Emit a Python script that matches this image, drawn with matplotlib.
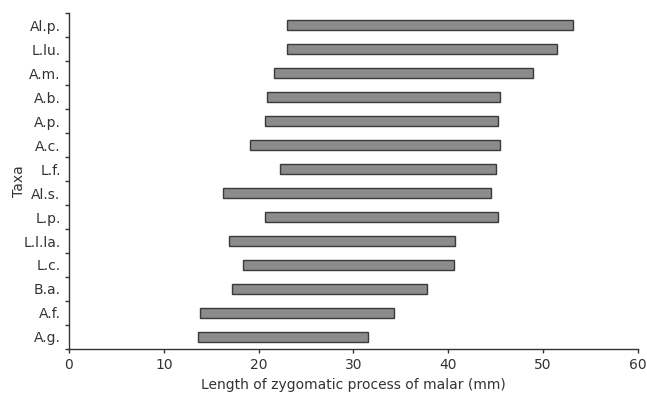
import matplotlib.pyplot as plt
import numpy as np

# taxa listed bottom to top
taxa = ['A.g.', 'A.f.', 'B.a.', 'L.c.', 'L.l.la.', 'L.p.', 'Al.s.', 'L.f.',
        'A.c.', 'A.p.', 'A.b.', 'A.m.', 'L.lu.', 'Al.p.']
low = [13.6, 13.8, 17.2, 18.4, 16.9, 20.7, 16.2, 22.3, 19.1, 20.7, 20.9, 21.6, 23.0, 22.95]
high = [31.5, 34.3, 37.8, 40.6, 40.7, 45.2, 44.5, 45.0, 45.5, 45.2, 45.5, 48.9, 51.5, 53.1]

xticks = [0, 10, 20, 30, 40, 50, 60]

fig = plt.figure(figsize=(6.47, 3.97), dpi=100)
ax = fig.add_axes([0.1066, 0.121, 0.8794, 0.846])

y = np.arange(len(taxa))
widths = np.array(high) - np.array(low)
ax.barh(y, widths, left=low, height=0.42, color='#8c8c8c',
        edgecolor='#3a3a3a', linewidth=1.0)

ax.set_xlim(0, 60)
ax.set_ylim(-0.5, len(taxa) - 0.5)
ax.set_xticks(xticks)

# labels at centres, tick marks at category boundaries
ax.set_yticks(y)
ax.set_yticklabels(taxa)
ax.set_yticks(np.arange(len(taxa) + 1) - 0.5, minor=True)
ax.tick_params(axis='y', which='major', length=0, pad=6)
ax.tick_params(axis='y', which='minor', length=3, width=1, color='#333333')
ax.tick_params(axis='x', length=3, width=1, color='#333333')
ax.tick_params(labelsize=10, labelcolor='#333333')

for s in ['top', 'right']:
    ax.spines[s].set_visible(False)
for s in ['left', 'bottom']:
    ax.spines[s].set_color('#333333')
    ax.spines[s].set_linewidth(1.0)

ax.set_xlabel('Length of zygomatic process of malar (mm)', fontsize=10,
              color='#333333', labelpad=4)
ax.set_ylabel('Taxa', fontsize=10, color='#333333', labelpad=-2)

fig.savefig('out.png', dpi=100)
